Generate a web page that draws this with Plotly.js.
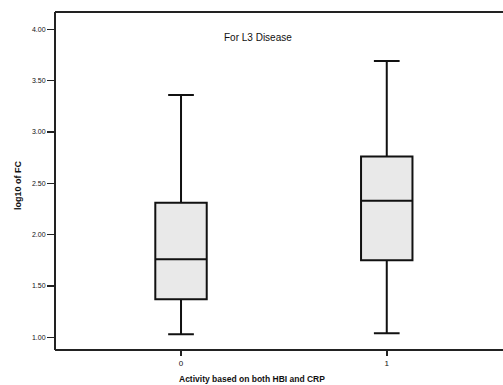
<!DOCTYPE html>
<html>
<head>
<meta charset="utf-8">
<script src="https://cdn.plot.ly/plotly-3.0.1.min.js"></script>
<style>html,body{margin:0;padding:0;background:#fff;}#chart{width:503px;height:385px;}</style>
</head>
<body>
<div id="chart"></div>
<script>
const categories = [0, 1];
const lowerWhisker = [1.03, 1.04];
const q1Values = [1.37, 1.75];
const medians = [1.76, 2.33];
const q3Values = [2.31, 2.76];
const upperWhisker = [3.36, 3.69];
const yTicks = [1.0, 1.5, 2.0, 2.5, 3.0, 3.5, 4.0];

const traces = categories.map((c, i) => ({
  type: 'box',
  x: [c],
  q1: [q1Values[i]],
  median: [medians[i]],
  q3: [q3Values[i]],
  lowerfence: [lowerWhisker[i]],
  upperfence: [upperWhisker[i]],
  width: 0.25,
  whiskerwidth: 0.5,
  fillcolor: '#e9e9e9',
  line: {color: '#111', width: 2},
  boxpoints: false,
  hoverinfo: 'skip',
  showlegend: false
}));

const frameLine = {color: '#222', width: 2};
const layout = {
  width: 503, height: 385,
  margin: {l: 55, r: 0, t: 12, b: 35},
  paper_bgcolor: '#fff', plot_bgcolor: '#fff',
  showlegend: false,
  font: {family: 'Liberation Sans, Arial, sans-serif', color: '#111'},
  xaxis: {
    range: [-0.6125, 1.565],
    tickvals: categories, ticktext: categories.map(String),
    showgrid: false, zeroline: false, showline: false,
    ticks: 'outside', ticklen: 5, tickwidth: 1.5, tickcolor: '#222',
    tickfont: {size: 8, color: '#111'}
  },
  yaxis: {
    range: [0.876, 4.168],
    tickvals: yTicks, ticktext: yTicks.map(v => v.toFixed(2)),
    showgrid: false, zeroline: false, showline: false,
    ticks: 'outside', ticklen: 7, tickwidth: 1.5, tickcolor: '#222',
    tickfont: {size: 7, color: '#111'}
  },
  shapes: [
    {type: 'line', xref: 'paper', yref: 'paper', x0: 0, x1: 1, y0: 0, y1: 0, line: frameLine},
    {type: 'line', xref: 'paper', yref: 'paper', x0: 0, x1: 1, y0: 1, y1: 1, line: frameLine},
    {type: 'line', xref: 'paper', yref: 'paper', x0: 0, x1: 0, y0: 0, y1: 1, line: frameLine}
  ],
  annotations: [
    {text: 'For L3 Disease', xref: 'paper', yref: 'paper', x: (258-55)/448, y: (350-38)/338,
     showarrow: false, xanchor: 'center', yanchor: 'middle', font: {size: 10, color: '#111'}},
    {text: '<b>Activity based on both HBI and CRP</b>', xref: 'paper', yref: 'paper', x: (252-55)/448, y: (350-379)/338,
     showarrow: false, xanchor: 'center', yanchor: 'middle', font: {size: 8.5, color: '#111'}},
    {text: '<b>log10 of FC</b>', xref: 'paper', yref: 'paper', x: (18-55)/448, y: (350-185)/338,
     textangle: -90, showarrow: false, xanchor: 'center', yanchor: 'middle', font: {size: 9, color: '#111'}}
  ]
};

Plotly.newPlot('chart', traces, layout, {displayModeBar: false, staticPlot: true});
</script>
</body>
</html>
